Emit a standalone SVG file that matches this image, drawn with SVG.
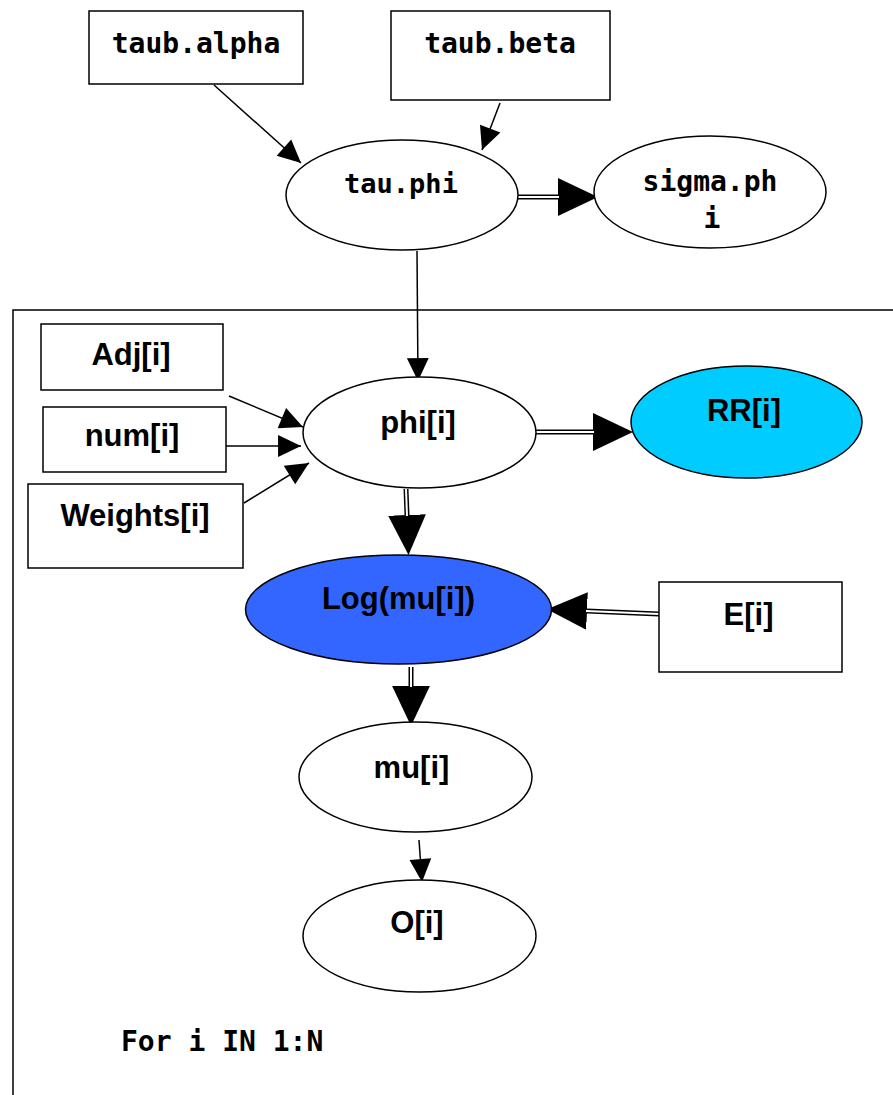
<svg xmlns="http://www.w3.org/2000/svg" width="893" height="1095" viewBox="0 0 893 1095">
<style>
.box{fill:#fff;stroke:#000;stroke-width:1.5}
.ell{fill:#fff;stroke:#000;stroke-width:1.5}
.mono{font-family:"DejaVu Sans Mono","Liberation Mono",monospace;font-weight:bold;font-size:28px;fill:#000}
.lab{font-family:"Liberation Sans",Arial,sans-serif;font-weight:bold;font-size:31px;fill:#000;text-anchor:middle}
.ln{fill:none;stroke:#000;stroke-width:1.5}
.dbl{fill:none;stroke:#000;stroke-width:5}
.dblw{fill:none;stroke:#fff;stroke-width:2}
.frame{fill:none;stroke:#000;stroke-width:1.5}
</style>
<defs>
<marker id="ah" markerUnits="userSpaceOnUse" markerWidth="24" markerHeight="24" viewBox="0 -11 21 22" refX="21" refY="0" orient="auto">
<path d="M0,-10 L21,0 L0,10 z" fill="#000"/>
</marker>
<marker id="big" markerUnits="userSpaceOnUse" markerWidth="40" markerHeight="40" viewBox="0 -18 36 36" refX="0" refY="0" orient="auto">
<path d="M0,-17 L36,0 L0,17 z" fill="#000"/>
</marker>
</defs>

<path class="frame" d="M13,1095 L13,310 L893,310"/>

<g id="connectors">
<path class="ln" marker-end="url(#ah)" d="M214,85 L301,163"/>
<path class="ln" marker-end="url(#ah)" d="M500,103 L482,150"/>
<path class="dbl" marker-end="url(#big)" d="M518,197 L558,197"/>
<path class="dblw" d="M518,197 L559,197"/>
<path class="ln" marker-end="url(#ah)" d="M417,251 L418,381"/>
<path class="ln" marker-end="url(#ah)" d="M229,396 L303,427"/>
<path class="ln" marker-end="url(#ah)" d="M226,446 L301,446"/>
<path class="ln" marker-end="url(#ah)" d="M244,503 L309,463"/>
<path class="dbl" marker-end="url(#big)" d="M536,432 L593,432"/>
<path class="dblw" d="M536,432 L594,432"/>
<path class="dbl" marker-end="url(#big)" d="M406,489 L407,515"/>
<path class="dblw" d="M406,489 L407,516"/>
<path class="dbl" marker-end="url(#big)" d="M659,614 L587,611"/>
<path class="dblw" d="M659,614 L586,611"/>
<path class="dbl" marker-end="url(#big)" d="M411,667 L411,686"/>
<path class="dblw" d="M411,667 L411,687"/>
<path class="ln" marker-end="url(#ah)" d="M419,840 L422,882"/>
</g>

<g id="taub_alpha">
<rect class="box" x="89" y="11" width="214" height="73"/>
<text class="mono" x="196" y="53" text-anchor="middle">taub.alpha</text>
</g>
<g id="taub_beta">
<rect class="box" x="391" y="11" width="219" height="89"/>
<text class="mono" x="500" y="53" text-anchor="middle">taub.beta</text>
</g>
<g id="tau_phi">
<ellipse class="ell" cx="402" cy="195" rx="116" ry="55"/>
<text class="mono" x="401" y="193" text-anchor="middle" style="font-size:27px">tau.phi</text>
</g>
<g id="sigma_phi">
<ellipse class="ell" cx="710" cy="192" rx="116" ry="56"/>
<text class="mono" x="710" y="191" text-anchor="middle">sigma.ph</text>
<text class="mono" x="712" y="228" text-anchor="middle">i</text>
</g>
<g id="adj">
<rect class="box" x="41" y="324" width="182" height="66"/>
<text class="lab" x="131" y="365">Adj[i]</text>
</g>
<g id="num">
<rect class="box" x="43" y="407" width="183" height="65"/>
<text class="lab" x="132" y="446">num[i]</text>
</g>
<g id="weights">
<rect class="box" x="28" y="484" width="215" height="84"/>
<text class="lab" x="135" y="526">Weights[i]</text>
</g>
<g id="phi">
<ellipse class="ell" cx="419.5" cy="432.5" rx="116.5" ry="55.5"/>
<text class="lab" x="418" y="433">phi[i]</text>
</g>
<g id="rr">
<ellipse class="ell" cx="746.5" cy="422" rx="115.5" ry="56" style="fill:#00ccff"/>
<text class="lab" x="744" y="421">RR[i]</text>
</g>
<g id="logmu">
<ellipse class="ell" cx="398.5" cy="609.5" rx="153" ry="54.5" style="fill:#3366ff"/>
<text class="lab" x="398.5" y="609">Log(mu[i])</text>
</g>
<g id="e">
<rect class="box" x="659" y="582" width="183" height="90"/>
<text class="lab" x="748.5" y="625">E[i]</text>
</g>
<g id="mu">
<ellipse class="ell" cx="415.5" cy="777" rx="116.5" ry="55"/>
<text class="lab" x="411.5" y="778">mu[i]</text>
</g>
<g id="o">
<ellipse class="ell" cx="419.5" cy="936" rx="116.5" ry="56"/>
<text class="lab" x="417" y="933">O[i]</text>
</g>
<g id="plate_label">
<text class="mono" x="121" y="1051">For i IN 1:N</text>
</g>
</svg>
